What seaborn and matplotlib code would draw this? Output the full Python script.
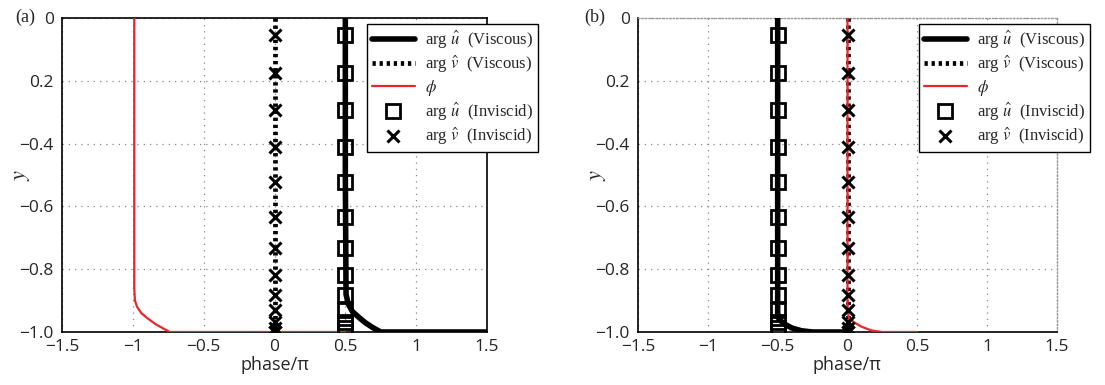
import numpy as np
import pandas as pd
import matplotlib
matplotlib.use("Agg")
import matplotlib.pyplot as plt
from matplotlib.lines import Line2D
import seaborn as sns

# ---------------- data ----------------
x_ticks = [-1.5, -1.0, -0.5, 0.0, 0.5, 1.0, 1.5]
x_tick_labels = ["\u22121.5", "\u22121", "\u22120.5", "0", "0.5", "1", "1.5"]
y_ticks = [0.0, -0.2, -0.4, -0.6, -0.8, -1.0]
y_tick_labels = ["0", "0.2", "\u22120.4", "\u22120.6", "\u22120.8", "\u22121.0"]

# inviscid marker heights (same for both panels)
y_inv = [-0.054, -0.175, -0.293, -0.410, -0.522, -0.634, -0.732, -0.818,
         -0.882, -0.930, -0.968, -0.987, -1.0]
a_u_inv = [0.5] * len(y_inv)
a_v_inv = [0.0] * len(y_inv)
b_u_inv = [-0.5] * len(y_inv)
b_v_inv = [0.0] * len(y_inv)

# panel (a) viscous curves
a_u_x = [0.5, 0.5, 0.505, 0.52, 0.55, 0.60, 0.64, 0.69, 0.73, 0.75, 1.5]
a_u_y = [0.0, -0.5, -0.88, -0.91, -0.935, -0.955, -0.97, -0.985, -0.995, -1.0, -1.0]
a_v_x = [0.0, 0.0]
a_v_y = [0.0, -1.0]
a_phi_x = [-0.99, -0.99, -0.985, -0.97, -0.94, -0.90, -0.84, -0.78, -0.74, 0.5]
a_phi_y = [0.0, -0.86, -0.90, -0.92, -0.94, -0.955, -0.975, -0.99, -1.0, -1.0]

# panel (b) viscous curves
b_u_x = [-0.5, -0.5, -0.49, -0.45, -0.40, -0.33, -0.25, 0.0]
b_u_y = [0.0, -0.94, -0.96, -0.975, -0.987, -0.996, -1.0, -1.0]
b_v_x = [0.0, 0.0]
b_v_y = [0.0, -1.0]
b_phi_x = [0.0, 0.0, 0.01, 0.05, 0.10, 0.17, 0.25, 0.5]
b_phi_y = [0.0, -0.93, -0.955, -0.97, -0.983, -0.995, -1.0, -1.0]

legend_labels = [r"arg $\hat{u}$  (Viscous)", r"arg $\hat{v}$  (Viscous)",
                 r"$\phi$", r"arg $\hat{u}$  (Inviscid)", r"arg $\hat{v}$  (Inviscid)"]

# ---------------- style ----------------
sns.set_style("white")
plt.rcParams["font.family"] = ["Open Sans", "DejaVu Sans"]
plt.rcParams["mathtext.fontset"] = "stix"

RED = "#e8262b"
W, H = 1105, 385
fig = plt.figure(figsize=(W / 100, H / 100), dpi=100)

AX_L_A, AX_R_A = 62, 487
AX_L_B, AX_R_B = 638, 1057
ax_a = fig.add_axes([AX_L_A / W, 1 - 332 / H, (AX_R_A - AX_L_A) / W, (332 - 18) / H])
ax_b = fig.add_axes([AX_L_B / W, 1 - 332 / H, (AX_R_B - AX_L_B) / W, (332 - 18) / H])

DOT = (0, (0.7, 0.8))


def draw(ax, ux, uy, vx, vy, px, py, u_inv, v_inv, width_px):
    sns.lineplot(x=vx, y=vy, sort=False, estimator=None, ax=ax, color="black",
                 lw=3.4, linestyle=DOT, zorder=3)
    sns.lineplot(x=ux, y=uy, sort=False, estimator=None, ax=ax, color="black",
                 lw=4.0, zorder=4)
    sns.lineplot(x=px, y=py, sort=False, estimator=None, ax=ax, color=RED,
                 lw=1.6, zorder=5)
    sns.lineplot(x=u_inv, y=y_inv, sort=False, estimator=None, ax=ax,
                 linestyle="none", marker="s", markersize=10, markerfacecolor="none",
                 markeredgecolor="black", markeredgewidth=2.0, zorder=6)
    sns.lineplot(x=v_inv, y=y_inv, sort=False, estimator=None, ax=ax,
                 linestyle="none", marker="x", markersize=9, markeredgecolor="black",
                 markeredgewidth=2.2, color="black", zorder=6)

    ax.set_xlim(-1.5, 1.5)
    ax.set_ylim(-1.0, 0.0)
    ax.set_xticks(x_ticks)
    ax.set_xticklabels(x_tick_labels)
    ax.set_yticks(y_ticks)
    ax.set_yticklabels(y_tick_labels)
    ax.tick_params(axis="both", labelsize=12.5, direction="in", length=3,
                   color="black")
    ax.tick_params(axis="x", pad=5)
    ax.tick_params(axis="y", pad=6)
    ax.grid(True, linestyle=(0, (1, 4)), color="#888888", lw=0.9)
    ax.set_axisbelow(True)
    for s in ax.spines.values():
        s.set_color("black")
        s.set_linewidth(1.2)
    ax.set_xlabel("phase/\u03c0", fontsize=13)
    ax.xaxis.set_label_coords(0.5, -(356 - 332) / 314.0)
    ax.set_ylabel("$y$", fontsize=16, rotation=90)
    ax.yaxis.set_label_coords(-30.0 / width_px, 0.5)


draw(ax_a, a_u_x, a_u_y, a_v_x, a_v_y, a_phi_x, a_phi_y, a_u_inv, a_v_inv,
     AX_R_A - AX_L_A)
draw(ax_b, b_u_x, b_u_y, b_v_x, b_v_y, b_phi_x, b_phi_y, b_u_inv, b_v_inv,
     AX_R_B - AX_L_B)

for sp in ("top", "right"):
    ax_b.spines[sp].set_color("#999999")
    ax_b.spines[sp].set_linestyle((0, (1, 1.5)))
    ax_b.spines[sp].set_linewidth(1.0)

handles = [
    Line2D([], [], color="black", lw=4.0),
    Line2D([], [], color="black", lw=3.4, linestyle=DOT),
    Line2D([], [], color=RED, lw=1.6),
    Line2D([], [], linestyle="none", marker="s", markersize=10, markerfacecolor="none",
           markeredgecolor="black", markeredgewidth=2.0),
    Line2D([], [], linestyle="none", marker="x", markersize=9, color="black",
           markeredgewidth=2.2),
]

for ax, xr in ((ax_a, 538), (ax_b, 1090)):
    leg = ax.legend(handles, legend_labels, loc="upper right",
                    bbox_to_anchor=(xr / W, 1 - 24 / H), bbox_transform=fig.transFigure,
                    prop={"family": "Liberation Serif", "size": 12},
                    frameon=True, fancybox=False, framealpha=1, edgecolor="black",
                    handlelength=2.6, handletextpad=0.6, labelspacing=0.18,
                    borderpad=0.3, borderaxespad=0)
    leg.get_frame().set_linewidth(1.0)
    leg.set_zorder(10)

fig.text(15 / W, 1 - 17 / H, "(a)", fontsize=13, family="Liberation Serif",
         ha="left", va="center")
fig.text(584 / W, 1 - 17 / H, "(b)", fontsize=13, family="Liberation Serif",
         ha="left", va="center")

fig.savefig("out.png", dpi=100)
